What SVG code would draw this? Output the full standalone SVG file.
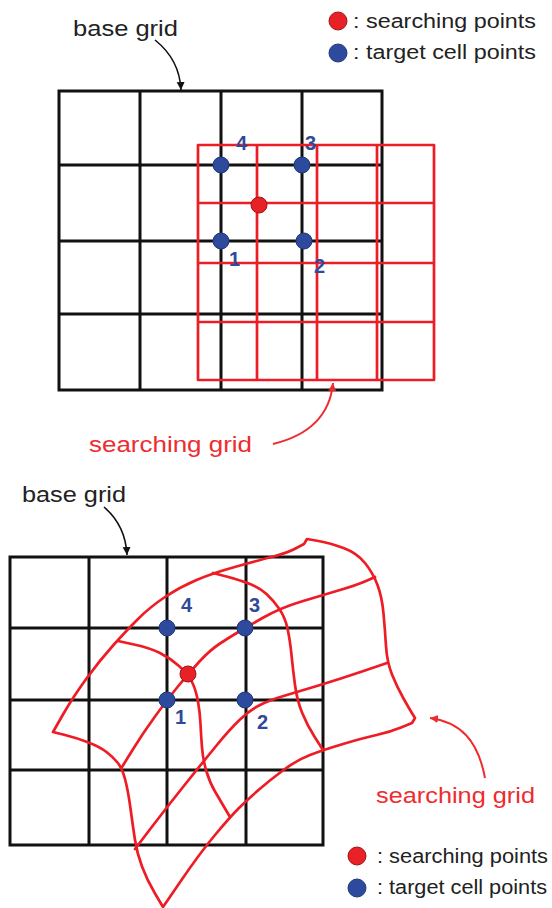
<svg xmlns="http://www.w3.org/2000/svg" width="552" height="908" viewBox="0 0 552 908">
<style>
.bg{fill:none;stroke:#111;stroke-width:3;stroke-linecap:square}
.sg{fill:none;stroke:#ee1c24;stroke-width:2.7;stroke-linejoin:round;stroke-linecap:round}
.lbl{font-family:"Liberation Sans",Arial,sans-serif;font-size:22px;fill:#222}
.leg{font-family:"Liberation Sans",Arial,sans-serif;font-size:20px;fill:#222}
.red{font-family:"Liberation Sans",Arial,sans-serif;font-size:22px;fill:#ee2b2f}
.num{font-family:"Liberation Sans",Arial,sans-serif;font-size:20px;font-weight:bold;fill:#2f4a9a}
.bd{fill:#2d4a9c;stroke:#22377a;stroke-width:1}
.rd{fill:#e82127;stroke:#a01418;stroke-width:1}
.ak{fill:none;stroke:#111;stroke-width:1.6}
.ar{fill:none;stroke:#ee2b2f;stroke-width:2}
</style>
<defs>
<marker id="mk" markerUnits="userSpaceOnUse" markerWidth="10" markerHeight="10" refX="8" refY="4" orient="auto"><path d="M0,0 L8,4 L0,8 Z" fill="#111"/></marker>
<marker id="mr" markerUnits="userSpaceOnUse" markerWidth="10" markerHeight="10" refX="8" refY="4" orient="auto"><path d="M0,0 L8,4 L0,8 Z" fill="#ee2b2f"/></marker>
</defs>

<!-- ===== Top panel ===== -->
<g id="base-grid-top">
<path class="bg" d="M59,91 V390 M140,91 V390 M221,91 V390 M302,91 V390 M382,91 V390 M59,91 H382 M59,165 H382 M59,241 H382 M59,314 H382 M59,390 H382"/>
</g>
<g id="searching-grid-top">
<path class="sg" d="M198,145 V380 M257,145 V380 M317,145 V380 M377,145 V380 M434,145 V380 M198,145 H434 M198,203 H434 M198,263 H434 M198,322 H434 M198,380 H434"/>
</g>
<g id="points-top">
<circle class="bd" cx="221" cy="165" r="8"/>
<circle class="bd" cx="302" cy="165" r="8"/>
<circle class="bd" cx="221" cy="241" r="8"/>
<circle class="bd" cx="304" cy="241" r="8"/>
<circle class="rd" cx="259" cy="205" r="8"/>
<text class="num" x="236" y="150">4</text>
<text class="num" x="305" y="150">3</text>
<text class="num" x="229" y="266">1</text>
<text class="num" x="314" y="273">2</text>
</g>
<g id="label-base-top"><text class="lbl" x="73" y="36" textLength="105" lengthAdjust="spacingAndGlyphs">base grid</text></g>
<g id="label-search-top"><text class="red" x="89" y="452" textLength="163" lengthAdjust="spacingAndGlyphs">searching grid</text></g>
<g id="legend-top">
<circle class="rd" cx="338" cy="21" r="9"/>
<text class="leg" x="353" y="28" textLength="183" lengthAdjust="spacingAndGlyphs">: searching points</text>
<circle class="bd" cx="338" cy="53" r="9"/>
<text class="leg" x="353" y="59" textLength="183" lengthAdjust="spacingAndGlyphs">: target cell points</text>
</g>

<!-- ===== Bottom panel ===== -->
<g id="base-grid-bottom">
<path class="bg" d="M10,557 V845 M89,557 V845 M167,557 V845 M246,557 V845 M323,557 V845 M10,557 H323 M10,628 H323 M10,700 H323 M10,770 H323 M10,845 H323"/>
</g>
<g id="searching-grid-bottom">
<path class="sg" d="M53,732 L63,714.5 Q73,697 86.5,678.5 Q100,660 113.5,645 Q127,630 138.5,618.5 Q150,607 165,597 Q180,587 196.5,580 Q213,573 236.5,566.5 Q260,560 273.5,556.5 Q287,553 295.5,548.5 L304,544 L307,539 L318.5,541 Q330,543 343.5,548 Q357,553 365,563 Q373,573 377.5,585 Q382,597 383.5,613.5 Q385,630 386,646 Q387,662 392,674.5 Q397,687 403.5,698.5 Q410,710 412.5,714 L415,718 L412,723 L401,727.5 Q390,732 376.5,735 Q363,738 343,744 Q323,750 310,755 Q297,760 283.5,770 Q270,780 258.5,790 Q247,800 238.5,808.5 Q230,817 215,835 Q200,853 181.5,880 L163,907 L155,893.5 Q147,880 142,866.5 Q137,853 135,840 Q133,827 130.5,808.5 Q128,790 125,779 Q122,768 117.5,762.5 Q113,757 106.5,752 Q100,747 88.5,742.5 Q77,738 65,735 Z"/>
<path class="sg" d="M122,767 L132.5,750 Q143,733 155,716.5 Q167,700 177.5,687 Q188,674 199,662 Q210,650 220,643.5 Q230,637 237.5,632.5 Q245,628 262.5,618 Q280,608 301.5,601.5 Q323,595 340,590 Q357,585 366,581 L375,577"/>
<path class="sg" d="M135,849 L151,828 Q167,807 185,784.5 Q203,762 216.5,745.5 Q230,729 240,719.5 Q250,710 260,705 Q270,700 283.5,696 Q297,692 318.5,685.5 Q340,679 363.5,671 L387,663"/>
<path class="sg" d="M118,641 L134,644.5 Q150,648 160,653 Q170,658 179,666 Q188,674 192,682 Q196,690 198,701.5 Q200,713 200.5,724 Q201,735 202,747.5 Q203,760 206.5,771.5 Q210,783 215,791.5 Q220,800 225,808.5 L230,817"/>
<path class="sg" d="M213,573 L226.5,576.5 Q240,580 250,584 Q260,588 266.5,594 Q273,600 279,608.5 Q285,617 287.5,628.5 Q290,640 291.5,655 Q293,670 295,685 Q297,700 302,712.5 Q307,725 315,737.5 L323,750"/>
</g>
<g id="points-bottom">
<circle class="bd" cx="167" cy="628" r="8"/>
<circle class="bd" cx="245" cy="628" r="8"/>
<circle class="bd" cx="167" cy="700" r="8"/>
<circle class="bd" cx="245" cy="700" r="8"/>
<circle class="rd" cx="188" cy="674" r="8"/>
<text class="num" x="181" y="612">4</text>
<text class="num" x="249" y="612">3</text>
<text class="num" x="175" y="724">1</text>
<text class="num" x="257" y="729">2</text>
</g>
<g id="label-base-bottom"><text class="lbl" x="22" y="502" textLength="104" lengthAdjust="spacingAndGlyphs">base grid</text></g>
<g id="label-search-bottom"><text class="red" x="376" y="803" textLength="159" lengthAdjust="spacingAndGlyphs">searching grid</text></g>
<g id="legend-bottom">
<circle class="rd" cx="357" cy="856" r="9"/>
<text class="leg" x="377" y="863" textLength="171" lengthAdjust="spacingAndGlyphs">: searching points</text>
<circle class="bd" cx="357" cy="888" r="9"/>
<text class="leg" x="377" y="894" textLength="170" lengthAdjust="spacingAndGlyphs">: target cell points</text>
</g>

<g id="connectors">
<path class="ak" d="M155,40 C170,52 180,68 181,90" marker-end="url(#mk)"/>
<path class="ar" d="M273,444 C310,435 330,415 333,383" marker-end="url(#mr)"/>
<path class="ak" d="M104,507 C118,519 126,535 127,555" marker-end="url(#mk)"/>
<path class="ar" d="M485,778 C478,740 460,722 430,718" marker-end="url(#mr)"/>
</g>
</svg>
